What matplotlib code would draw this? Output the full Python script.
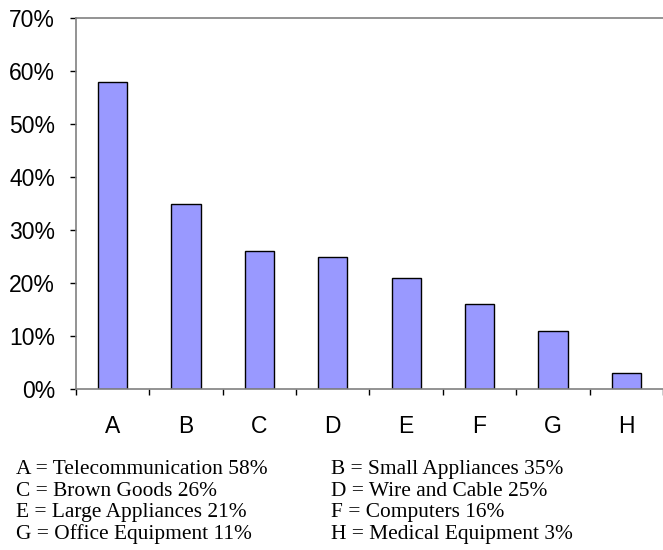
import matplotlib

matplotlib.use("Agg", force=True)
import matplotlib.pyplot as plt
import numpy as np
from matplotlib.ticker import FuncFormatter

letters = ["A", "B", "C", "D", "E", "F", "G", "H"]
sectors = [
    "Telecommunication",
    "Small Appliances",
    "Brown Goods",
    "Wire and Cable",
    "Large Appliances",
    "Computers",
    "Office Equipment",
    "Medical Equipment",
]
shares = [58, 35, 26, 25, 21, 16, 11, 3]

fig = plt.figure(figsize=(6.63, 5.5), dpi=100)
ax = fig.add_axes([0.1146, 0.2927, 0.8854, 0.6740])

x = np.arange(len(letters))
ax.bar(x, shares, width=0.4, color="#9999FF", edgecolor="black", linewidth=1.0)

ax.set_xlim(-0.5, len(letters) - 0.5)
ax.set_ylim(0, 70)
ax.set_yticks(np.arange(0, 71, 10))
ax.yaxis.set_major_formatter(FuncFormatter(lambda v, _: f"{v:.0f}%"))

# categories are labelled at the centre, ticks sit on the boundaries
ax.set_xticks(x)
ax.set_xticklabels(letters)
ax.set_xticks(np.arange(-0.5, len(letters)), minor=True)
ax.tick_params(axis="x", which="major", length=0, pad=19)
ax.tick_params(axis="x", which="minor", length=4.5, width=1.0, color="black", direction="out")
ax.tick_params(axis="y", length=4, width=1.0, color="black", direction="out", pad=11)
for lbl in ax.get_xticklabels() + ax.get_yticklabels():
    lbl.set_fontfamily("Liberation Sans")
    lbl.set_fontsize(16.5)

ax.spines["right"].set_visible(False)
for side in ("left", "top", "bottom"):
    ax.spines[side].set_color("#808080")
    ax.spines[side].set_linewidth(1.2)

# key below the chart, two columns
row_y = [0.146, 0.107, 0.068, 0.029]
col_x = [0.024, 0.499]
for i, (letter, name, val) in enumerate(zip(letters, sectors, shares)):
    fig.text(
        col_x[i % 2],
        row_y[i // 2],
        f"{letter} = {name} {val}%",
        fontfamily="Liberation Serif",
        fontsize=15.4,
        va="center",
        ha="left",
    )

fig.savefig("out.png", dpi=100)
